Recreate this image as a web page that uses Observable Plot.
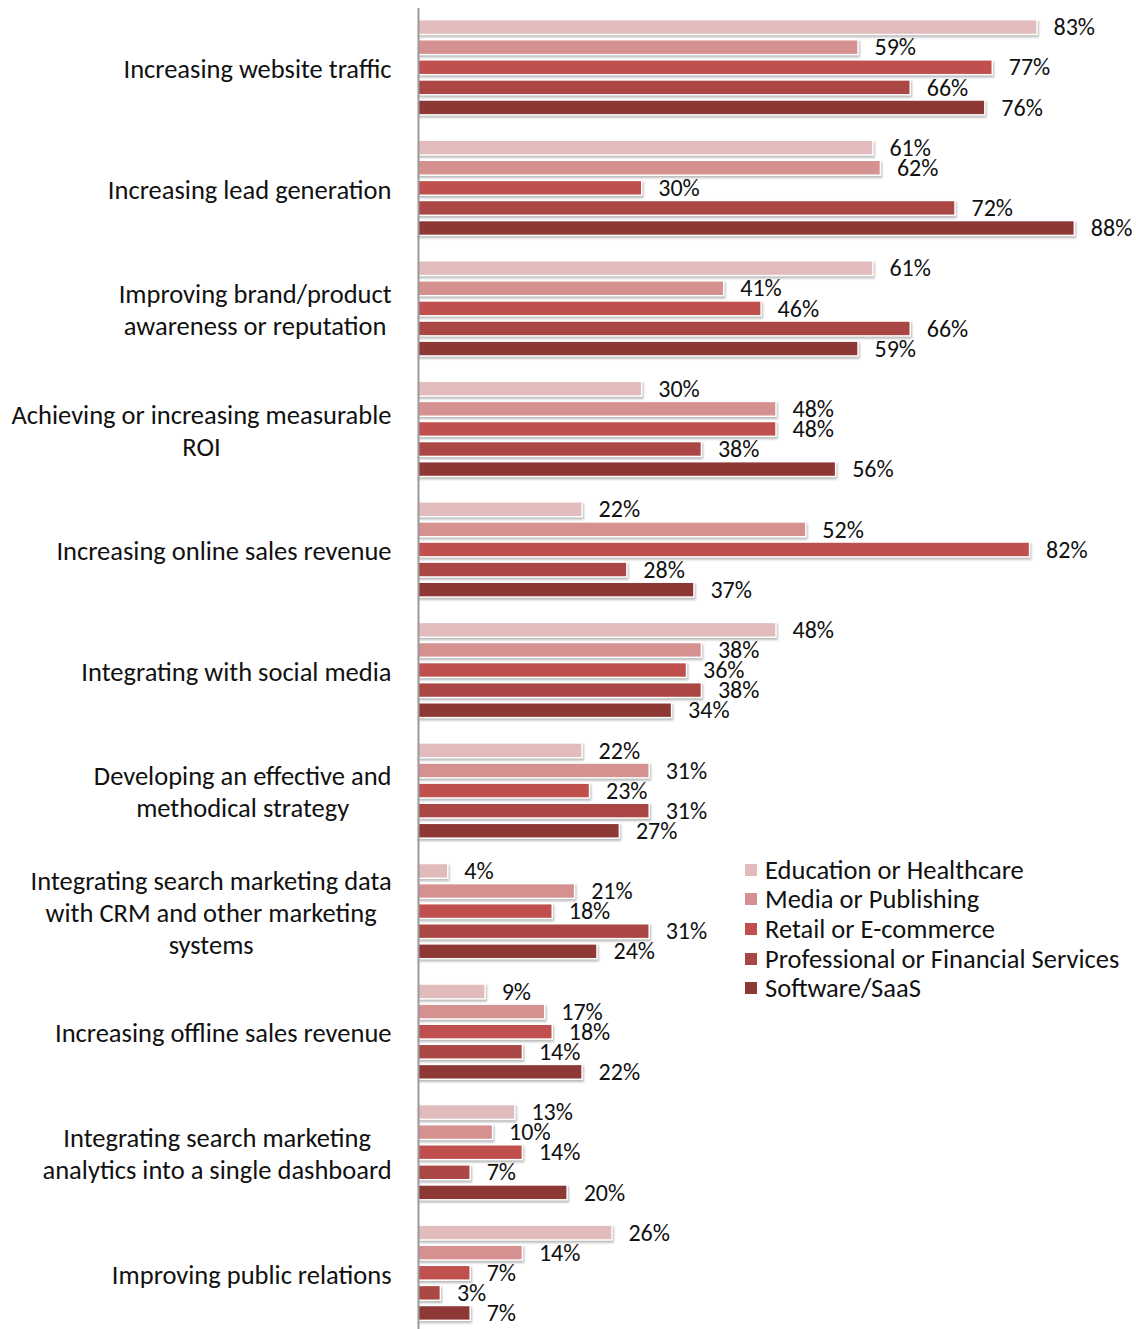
<!DOCTYPE html>
<html>
<head>
<meta charset="utf-8">
<script src="https://cdn.jsdelivr.net/npm/d3@7"></script>
<script src="https://cdn.jsdelivr.net/npm/@observablehq/plot@0.6"></script>
<style>
  html, body { margin: 0; padding: 0; background: #fff; }
  #wrap { position: relative; width: 1136px; height: 1329px; font-family: Carlito, Calibri, Lato, sans-serif; }
  #wrap svg g[aria-label="rect"] rect { filter: drop-shadow(1px 2px 1.2px rgba(0,0,0,0.28)); }
  #legend { position: absolute; left: 745px; top: 855px; font-size: 26.5px; color: #111; }
  #legend .row { display: flex; align-items: center; height: 29.6px; white-space: nowrap; }
  #legend .sw { width: 12px; height: 12px; margin-right: 8px; display: inline-block; }
</style>
</head>
<body>
<div id="wrap"></div>
<script>
const categories = [
  "Increasing website traffic",
  "Increasing lead generation",
  "Improving brand/product\nawareness or reputation",
  "Achieving or increasing measurable\nROI",
  "Increasing online sales revenue",
  "Integrating with social media",
  "Developing an effective and\nmethodical strategy",
  "Integrating search marketing data\nwith CRM and other marketing\nsystems",
  "Increasing offline sales revenue",
  "Integrating search marketing\nanalytics into a single dashboard",
  "Improving public relations"
];
const series = [
  "Education or Healthcare",
  "Media or Publishing",
  "Retail or E-commerce",
  "Professional or Financial Services",
  "Software/SaaS"
];
const colors = ["#e2bcbc", "#d49190", "#c0504d", "#aa4644", "#8e3836"];
const education    = [83, 61, 61, 30, 22, 48, 22,  4,  9, 13, 26];
const media        = [59, 62, 41, 48, 52, 38, 31, 21, 17, 10, 14];
const retail       = [77, 30, 46, 48, 82, 36, 23, 18, 18, 14,  7];
const professional = [66, 72, 66, 38, 28, 38, 31, 31, 14,  7,  3];
const software     = [76, 88, 59, 56, 37, 34, 27, 24, 22, 20,  7];
const valuesBySeries = [education, media, retail, professional, software];

const slot = series.length + 1; // bars per group plus one gap
const rows = [];
categories.forEach((c, g) => {
  series.forEach((s, i) => {
    rows.push({category: c, series: s, value: valuesBySeries[i][g], pos: g * slot + i});
  });
});
const groupCenters = categories.map((c, g) => g * slot + (series.length - 1) / 2);
const half = 0.37;

const chart = Plot.plot({
  width: 1136,
  height: 1329,
  marginLeft: 418,
  marginRight: 2,
  marginTop: 8,
  marginBottom: 0,
  style: {fontFamily: "Carlito, Calibri, Lato, sans-serif", color: "#111", background: "#fff"},
  x: {domain: [0, 96], axis: null},
  y: {domain: [-0.95, (categories.length - 1) * slot + series.length - 1 + 0.8], reverse: true, axis: null},
  color: {domain: series, range: colors},
  marks: [
    Plot.rect(rows, {
      x1: 0, x2: "value",
      y1: d => d.pos - half, y2: d => d.pos + half,
      fill: "series", stroke: "#fff", strokeWidth: 1.5
    }),
    Plot.text(rows, {
      x: "value", y: "pos", text: d => d.value + "%",
      textAnchor: "start", dx: 16, fontSize: 24, fill: "#111"
    }),
    Plot.ruleX([0], {stroke: "#9a9a9a", strokeWidth: 2}),
    Plot.axisY(groupCenters, {
      anchor: "left",
      label: null,
      tickSize: 0,
      tickPadding: 27,
      tickFormat: (d, i) => categories[i],
      fontSize: 26.5,
      lineHeight: 1.21,
      fill: "#111"
    })
  ]
});

const wrap = document.getElementById("wrap");
wrap.appendChild(chart);

// center the lines of each multi-line category label within its block
chart.querySelectorAll('g[aria-label="y-axis tick label"] text').forEach(t => {
  const b = t.getBBox();
  const cx = b.x + b.width / 2;
  t.setAttribute("text-anchor", "middle");
  const spans = t.querySelectorAll("tspan");
  if (spans.length) spans.forEach(s => s.setAttribute("x", cx));
  else t.setAttribute("x", cx);
});

const legend = document.createElement("div");
legend.id = "legend";
series.forEach((s, i) => {
  const row = document.createElement("div");
  row.className = "row";
  const sw = document.createElement("span");
  sw.className = "sw";
  sw.style.background = colors[i];
  const lab = document.createElement("span");
  lab.textContent = s;
  row.appendChild(sw);
  row.appendChild(lab);
  legend.appendChild(row);
});
wrap.appendChild(legend);
</script>
</body>
</html>
